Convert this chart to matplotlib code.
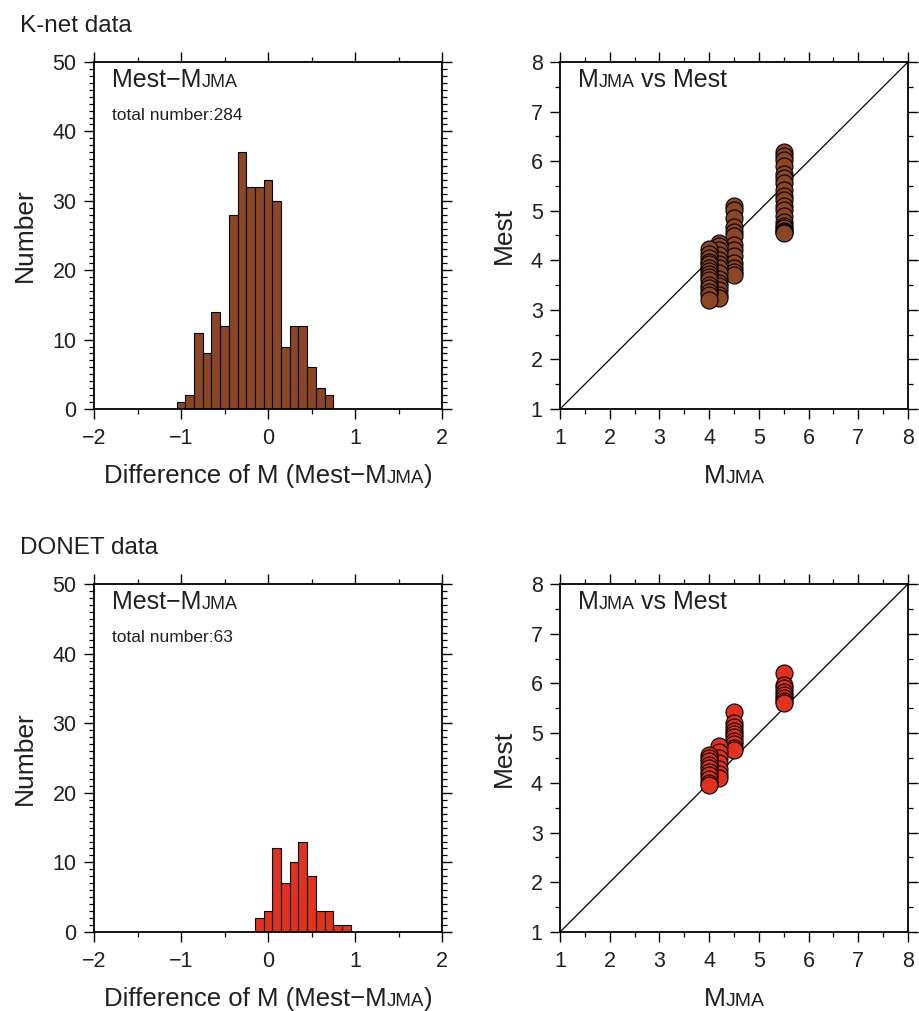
import matplotlib
matplotlib.use('Agg')
import matplotlib.pyplot as plt
import numpy as np
from matplotlib.ticker import MultipleLocator
from matplotlib.transforms import IdentityTransform

W, H, DPI = 920, 1011, 100
plt.rcParams['font.family'] = ['Liberation Sans', 'DejaVu Sans']
TXT = '#231f20'
BROWN = '#8b4626'
RED = '#e1321f'

# ---------------- data ----------------
bin_width = 0.1
knet_bins = [-1.0, -0.9, -0.8, -0.7, -0.6, -0.5, -0.4, -0.3, -0.2, -0.1,
             0.0, 0.1, 0.2, 0.3, 0.4, 0.5, 0.6, 0.7]
knet_counts = [1, 2, 11, 8, 14, 12, 28, 37, 32, 32, 33, 30, 9, 12, 12, 6, 3, 2]

donet_bins = [-0.1, 0.0, 0.1, 0.2, 0.3, 0.4, 0.5, 0.6, 0.7, 0.8, 0.9]
donet_counts = [2, 3, 12, 7, 10, 13, 8, 3, 3, 1, 1]

knet_total = 284
donet_total = 63

# scatter: Mest values grouped by MJMA
knet_mjma = [5.5, 4.5, 4.2, 4.0]
knet_mest_55 = [6.19, 6.10, 6.02, 5.90, 5.75, 5.65, 5.55, 5.42, 5.30, 5.21,
                5.10, 5.01, 4.90, 4.78, 4.70, 4.65, 4.60, 4.58, 4.55]
knet_mest_45 = [5.09, 5.01, 4.85, 4.68, 4.58, 4.48, 4.31, 4.21, 4.08, 3.94,
                3.84, 3.77, 3.70]
knet_mest_42 = [4.34, 4.28, 4.20, 4.10, 4.00, 3.92, 3.85, 3.75, 3.62, 3.55,
                3.48, 3.40, 3.30, 3.23]
knet_mest_40 = [4.22, 4.12, 4.04, 3.97, 3.93, 3.85, 3.78, 3.73, 3.66, 3.60,
                3.50, 3.45, 3.37, 3.30, 3.20]

donet_mjma = [5.5, 4.5, 4.2, 4.0]
donet_mest_55 = [6.20, 5.97, 5.90, 5.82, 5.76, 5.70, 5.64, 5.60]
donet_mest_45 = [5.42, 5.20, 5.12, 5.05, 4.98, 4.92, 4.85, 4.78, 4.70, 4.66]
donet_mest_42 = [4.74, 4.62, 4.50, 4.40, 4.28, 4.18, 4.10]
donet_mest_40 = [4.56, 4.50, 4.43, 4.36, 4.30, 4.22, 4.15, 4.08, 4.00, 3.95]

fig = plt.figure(figsize=(W / DPI, H / DPI), dpi=DPI)
fig.patch.set_facecolor('white')
renderer = fig.canvas.get_renderer()


def px_axes(left, top, right, bottom):
    return fig.add_axes([left / W, 1 - bottom / H, (right - left) / W, (bottom - top) / H])


def rich(x, y, pieces, ha='left'):
    """pieces: list of (text, fontsize, gap_after_px); y = baseline from top (px)."""
    texts = []
    for s, size, gap in pieces:
        t = fig.text(0, 0, s, fontsize=size, color=TXT, va='baseline', ha='left',
                     transform=IdentityTransform())
        texts.append((t, gap))
    widths = [t.get_window_extent(renderer).width + g for t, g in texts]
    total = sum(widths)
    x0 = x - total / 2 if ha == 'center' else x
    for (t, g), w in zip(texts, widths):
        t.set_position((x0, H - y))
        x0 += w


def style_axes(ax):
    for sp in ax.spines.values():
        sp.set_linewidth(1.3)
        sp.set_color('black')
    ax.tick_params(which='both', direction='out', top=True, right=True,
                   labeltop=False, labelright=False, color='black',
                   labelcolor=TXT, labelsize=15.5)
    ax.tick_params(which='major', length=7, width=1.0)
    ax.tick_params(which='minor', length=3.5, width=0.9)
    ax.tick_params(axis='x', which='both', pad=7)
    ax.tick_params(axis='y', which='both', pad=5.5)


def histogram(ax, bins, counts, color):
    ax.bar(bins, counts, width=bin_width, color=color, edgecolor='black',
           linewidth=0.8, align='center', zorder=2)
    ax.set_xlim(-2, 2)
    ax.set_ylim(0, 50)
    ax.xaxis.set_major_locator(MultipleLocator(1))
    ax.xaxis.set_minor_locator(MultipleLocator(0.5))
    ax.yaxis.set_major_locator(MultipleLocator(10))
    ax.yaxis.set_minor_locator(MultipleLocator(1))
    style_axes(ax)


def scatter(ax, mjma, mest_lists, color):
    ax.plot([1, 8], [1, 8], color='black', lw=0.9, zorder=1)
    for m, ys in zip(mjma, mest_lists):
        ax.scatter(np.full(len(ys), m), ys, s=150, c=color, edgecolors='black',
                   linewidths=0.8, zorder=3)
    ax.set_xlim(1, 8)
    ax.set_ylim(1, 8)
    for axis in (ax.xaxis, ax.yaxis):
        axis.set_major_locator(MultipleLocator(1))
        axis.set_minor_locator(MultipleLocator(0.5))
    style_axes(ax)


# panel geometry (pixels)
HL, HR = 94, 442
SL, SR = 560, 908
TOPS = [(62, 409), (584, 932)]

panels = [
    ("K-net data", knet_bins, knet_counts, BROWN, knet_total,
     knet_mjma, [knet_mest_55, knet_mest_45, knet_mest_42, knet_mest_40]),
    ("DONET data", donet_bins, donet_counts, RED, donet_total,
     donet_mjma, [donet_mest_55, donet_mest_45, donet_mest_42, donet_mest_40]),
]

for (top, bot), (title, bins, counts, color, total, mj, mests) in zip(TOPS, panels):
    axh = px_axes(HL, top, HR, bot)
    histogram(axh, bins, counts, color)
    axs = px_axes(SL, top, SR, bot)
    scatter(axs, mj, mests, color)

    # panel header
    rich(20, top - 30, [(title, 17.5, 0)])
    # inside-histogram texts
    rich(112, top + 25, [("Mest\u2212M", 18, 0), ("JMA", 13, 0)])
    rich(112, top + 58, [("total number:%d" % total, 12.5, 0)])
    # inside-scatter text
    rich(578, top + 25, [("M", 18, 0), ("JMA", 13, 6), ("vs Mest", 18, 0)])
    # x labels
    rich((HL + HR) / 2, bot + 74,
         [("Difference of M (Mest\u2212M", 18.5, 0), ("JMA", 13.5, 0), (")", 18.5, 0)],
         ha='center')
    rich((SL + SR) / 2, bot + 74, [("M", 19, 0), ("JMA", 14, 0)], ha='center')
    # y labels
    fig.text(25 / W, 1 - (top + bot) / 2 / H, "Number", fontsize=19, color=TXT,
             rotation=90, ha='center', va='center')
    fig.text(504 / W, 1 - (top + bot) / 2 / H, "Mest", fontsize=19, color=TXT,
             rotation=90, ha='center', va='center')

fig.savefig('out.png', dpi=DPI, facecolor='white')
